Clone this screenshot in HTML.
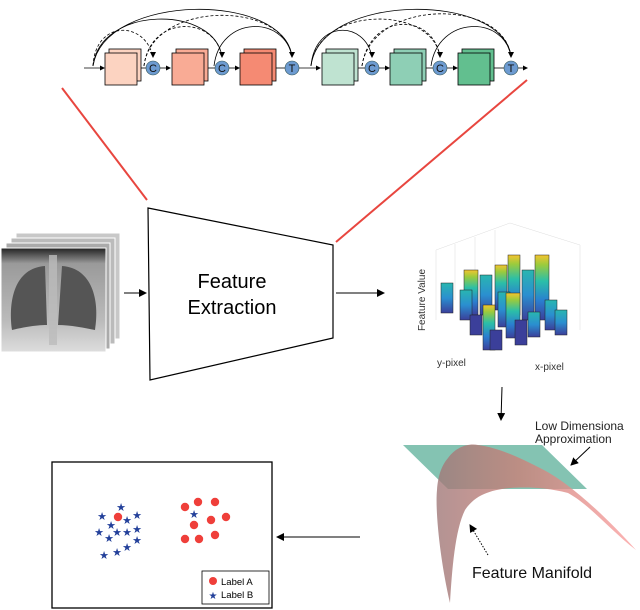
<!DOCTYPE html>
<html><head><meta charset="utf-8"><style>
html,body{margin:0;padding:0;background:#fff}
svg{display:block;font-family:"Liberation Sans",sans-serif}
</style></head><body>
<svg width="640" height="610" viewBox="0 0 640 610" xmlns="http://www.w3.org/2000/svg">
<defs>
<marker id="ah" markerWidth="8" markerHeight="8" refX="7" refY="4" orient="auto" markerUnits="userSpaceOnUse"><path d="M0,0 L8,4 L0,8 z" fill="#000"/></marker>
<marker id="as" markerWidth="5" markerHeight="5" refX="4" refY="2.5" orient="auto" markerUnits="userSpaceOnUse"><path d="M0,0 L5,2.5 L0,5 z" fill="#000"/></marker>
<linearGradient id="vir" x1="0" y1="1" x2="0" y2="0"><stop offset="0" stop-color="#3b3f9a"/><stop offset="0.3" stop-color="#2a7fd0"/><stop offset="0.6" stop-color="#2bbfa8"/><stop offset="0.85" stop-color="#9ccb3c"/><stop offset="1" stop-color="#f4c430"/></linearGradient>
<linearGradient id="vir2" x1="0" y1="1" x2="0" y2="0"><stop offset="0" stop-color="#3b3f9a"/><stop offset="0.5" stop-color="#2a8fd0"/><stop offset="1" stop-color="#29b6b0"/></linearGradient>
<linearGradient id="xr" x1="0" y1="0" x2="0" y2="1"><stop offset="0" stop-color="#222"/><stop offset="0.15" stop-color="#9a9a9a"/><stop offset="0.7" stop-color="#bbb"/><stop offset="1" stop-color="#ddd"/></linearGradient>
<linearGradient id="man" x1="0" y1="0" x2="1" y2="0"><stop offset="0" stop-color="#a07878"/><stop offset="0.4" stop-color="#c98078"/><stop offset="1" stop-color="#fca0a0"/></linearGradient>
</defs>

<!-- top network -->
<g fill="none" stroke="#000" stroke-width="0.8">
<path d="M93,66 C95,20 145,20 153,57" stroke-dasharray="3,2"/>
<path d="M93,66 C100,5 215,5 222,57"/>
<path d="M93,66 C105,-8 285,-8 292,57"/>
<path d="M144,66 C150,15 215,15 222,57" stroke-dasharray="3,2"/>
<path d="M144,66 C152,0 285,0 292,57" stroke-dasharray="3,2"/>
<path d="M214,66 C220,15 285,15 292,57"/>
<path d="M311,66 C315,20 365,20 372,57"/>
<path d="M311,66 C318,5 433,5 440,57" stroke-dasharray="3,2"/>
<path d="M311,66 C320,-8 505,-8 511,57"/>
<path d="M362,66 C370,12 433,12 440,57" stroke-dasharray="3,2"/>
<path d="M362,66 C372,-2 505,-2 511,57" stroke-dasharray="3,2"/>
<path d="M431,66 C438,15 505,15 511,57"/>
</g>
<g fill="#000">
<path d="M150,52 L156,52 L153,58z"/><path d="M219,52 L225,52 L222,58z"/><path d="M289,52 L295,52 L292,58z"/>
<path d="M369,52 L375,52 L372,58z"/><path d="M437,52 L443,52 L440,58z"/><path d="M508,52 L514,52 L511,58z"/>
</g>
<g stroke="#000" stroke-width="0.8">
<line x1="84" y1="68" x2="104" y2="68" marker-end="url(#as)"/>
<line x1="137" y1="68" x2="146" y2="68"/>
<line x1="160" y1="68" x2="170" y2="68" marker-end="url(#as)"/>
<line x1="205" y1="68" x2="215" y2="68"/>
<line x1="229" y1="68" x2="239" y2="68" marker-end="url(#as)"/>
<line x1="273" y1="68" x2="285" y2="68"/>
<line x1="299" y1="68" x2="320" y2="68" marker-end="url(#as)"/>
<line x1="355" y1="68" x2="365" y2="68"/>
<line x1="379" y1="68" x2="389" y2="68" marker-end="url(#as)"/>
<line x1="423" y1="68" x2="433" y2="68"/>
<line x1="447" y1="68" x2="457" y2="68" marker-end="url(#as)"/>
<line x1="491" y1="68" x2="504" y2="68"/>
<line x1="518" y1="68" x2="527" y2="68" marker-end="url(#as)"/>
</g>
<g stroke="#000" stroke-width="0.8">
<rect x="109" y="49" width="32" height="32" fill="#fcd3c1"/><rect x="105" y="53" width="32" height="32" fill="#fcd3c1"/>
<rect x="176" y="49" width="32" height="32" fill="#f9ab95"/><rect x="172" y="53" width="32" height="32" fill="#f9ab95"/>
<rect x="244" y="49" width="32" height="32" fill="#f58a73"/><rect x="240" y="53" width="32" height="32" fill="#f58a73"/>
<rect x="326" y="49" width="32" height="32" fill="#bfe3d1"/><rect x="322" y="53" width="32" height="32" fill="#bfe3d1"/>
<rect x="394" y="49" width="32" height="32" fill="#8ecfb5"/><rect x="390" y="53" width="32" height="32" fill="#8ecfb5"/>
<rect x="462" y="49" width="32" height="32" fill="#62bf8f"/><rect x="458" y="53" width="32" height="32" fill="#62bf8f"/>
</g>
<g fill="#6d9bd1" stroke="#355" stroke-width="0.6">
<circle cx="153" cy="68" r="7"/><circle cx="222" cy="68" r="7"/><circle cx="292" cy="68" r="7"/>
<circle cx="372" cy="68" r="7"/><circle cx="440" cy="68" r="7"/><circle cx="511" cy="68" r="7"/>
</g>
<g font-size="11" text-anchor="middle" fill="#111">
<text x="153" y="72">C</text><text x="222" y="72">C</text><text x="292" y="72">T</text>
<text x="372" y="72">C</text><text x="440" y="72">C</text><text x="511" y="72">T</text>
</g>

<!-- red lines -->
<line x1="62" y1="88" x2="147" y2="200" stroke="#e8463f" stroke-width="2"/>
<line x1="527" y1="80" x2="336" y2="242" stroke="#e8463f" stroke-width="2"/>

<!-- x-ray stack -->
<rect x="16" y="233" width="104" height="106" fill="#c8c8c8" stroke="#fff"/>
<rect x="11" y="238" width="104" height="106" fill="#bbb" stroke="#fff"/>
<rect x="6" y="243" width="104" height="106" fill="#aaa" stroke="#fff"/>
<rect x="1" y="248" width="105" height="104" fill="url(#xr)" stroke="#fff"/>
<path d="M12,330 C8,300 15,268 45,266 L47,325 C35,325 20,328 12,330Z" fill="#555"/>
<path d="M95,330 C100,300 92,268 62,266 L58,325 C70,325 85,328 95,330Z" fill="#555"/>
<rect x="49" y="255" width="8" height="90" fill="#bbb" opacity="0.8"/>

<!-- trapezoid -->
<path d="M148,208 L333,245 L333,338 L150,380 Z" fill="#fff" stroke="#000" stroke-width="1.2"/>
<text x="232" y="288" font-size="20" text-anchor="middle">Feature</text>
<text x="232" y="314" font-size="20" text-anchor="middle">Extraction</text>

<line x1="124" y1="293" x2="146" y2="293" stroke="#000" marker-end="url(#ah)"/>
<line x1="336" y1="293" x2="384" y2="293" stroke="#000" marker-end="url(#ah)"/>

<!-- bar chart -->
<g stroke="#ddd" stroke-width="0.5" fill="none">
<path d="M436,250 L510,223 L580,245 L580,330"/><path d="M436,250 L436,320"/>
<line x1="455" y1="244" x2="455" y2="300"/><line x1="475" y1="237" x2="475" y2="300"/><line x1="495" y1="230" x2="495" y2="300"/>
</g>
<g stroke="#222" stroke-width="0.5">
<rect x="441" y="283" width="12" height="30" fill="url(#vir2)"/>
<rect x="464" y="270" width="14" height="45" fill="url(#vir)"/>
<rect x="460" y="290" width="12" height="30" fill="url(#vir2)"/>
<rect x="495" y="265" width="12" height="45" fill="url(#vir)"/>
<rect x="480" y="275" width="12" height="40" fill="url(#vir2)"/>
<rect x="508" y="255" width="12" height="60" fill="url(#vir)"/>
<rect x="535" y="255" width="14" height="65" fill="url(#vir)"/>
<rect x="522" y="270" width="12" height="50" fill="url(#vir2)"/>
<rect x="545" y="300" width="12" height="30" fill="url(#vir2)"/>
<rect x="555" y="310" width="12" height="25" fill="url(#vir2)"/>
<rect x="498" y="292" width="12" height="35" fill="url(#vir2)"/>
<rect x="506" y="293" width="14" height="45" fill="url(#vir)"/>
<rect x="470" y="315" width="12" height="20" fill="#3b3f9a"/>
<rect x="483" y="305" width="12" height="45" fill="url(#vir)"/>
<rect x="490" y="330" width="12" height="20" fill="#3b3f9a"/>
<rect x="515" y="320" width="12" height="25" fill="#3b3f9a"/>
<rect x="528" y="312" width="12" height="25" fill="url(#vir2)"/>
</g>
<text x="425" y="300" font-size="10" fill="#333" transform="rotate(-90 425 300)" text-anchor="middle">Feature Value</text>
<text x="437" y="366" font-size="10" fill="#333">y-pixel</text>
<text x="535" y="370" font-size="10" fill="#333">x-pixel</text>

<line x1="502" y1="387" x2="501" y2="420" stroke="#000" marker-end="url(#ah)"/>

<!-- manifold -->
<path d="M403,445 L542,445 L587,489 L448,489 Z" fill="#6fb9a5" opacity="0.85"/>
<path d="M450,603 C440,560 435,510 437,490 C438,475 442,465 448,458 C456,447 468,443 478,445 C500,448 520,458 540,468 C565,480 600,510 636,550 C610,530 590,505 568,493 C545,487 525,487 510,488 C490,490 475,495 465,510 C455,530 452,570 450,603 Z" fill="url(#man)" opacity="0.8"/>
<text x="535" y="430" font-size="12" fill="#222">Low Dimensiona</text>
<text x="535" y="443" font-size="12" fill="#222">Approximation</text>
<line x1="590" y1="447" x2="571" y2="465" stroke="#000" marker-end="url(#ah)"/>
<line x1="488" y1="555" x2="470" y2="525" stroke="#000" stroke-dasharray="1.5,1.5" marker-end="url(#ah)"/>
<text x="472" y="578" font-size="16" fill="#111">Feature Manifold</text>

<line x1="360" y1="537" x2="277" y2="537" stroke="#000" marker-end="url(#ah)"/>

<!-- scatter box -->
<rect x="52" y="462" width="220" height="146" fill="#fff" stroke="#000" stroke-width="1.3"/>
<g fill="#ef3f3a">
<circle cx="118" cy="517" r="4.2"/><circle cx="185" cy="507" r="4.2"/><circle cx="198" cy="502" r="4.2"/><circle cx="215" cy="502" r="4.2"/>
<circle cx="226" cy="517" r="4.2"/><circle cx="211" cy="520" r="4.2"/><circle cx="194" cy="525" r="4.2"/><circle cx="185" cy="539" r="4.2"/>
<circle cx="199" cy="539" r="4.2"/><circle cx="215" cy="535" r="4.2"/>
</g>
<g fill="#23409a" font-size="11" text-anchor="middle">
<text x="121" y="511">★</text><text x="102" y="520">★</text><text x="137" y="519">★</text><text x="127" y="524">★</text>
<text x="111" y="529">★</text><text x="137" y="533">★</text><text x="99" y="536">★</text><text x="117" y="536">★</text>
<text x="127" y="536">★</text><text x="109" y="542">★</text><text x="137" y="544">★</text><text x="127" y="551">★</text>
<text x="117" y="556">★</text><text x="104" y="559">★</text><text x="194" y="518">★</text>
</g>
<rect x="202" y="571" width="67" height="33" fill="#fff" stroke="#000" stroke-width="0.8"/>
<circle cx="213" cy="581" r="4" fill="#ef3f3a"/>
<text x="213" y="599" font-size="10" fill="#23409a" text-anchor="middle">★</text>
<text x="221" y="585" font-size="9.5">Label A</text>
<text x="221" y="598" font-size="9.5">Label B</text>
</svg>
</body></html>
